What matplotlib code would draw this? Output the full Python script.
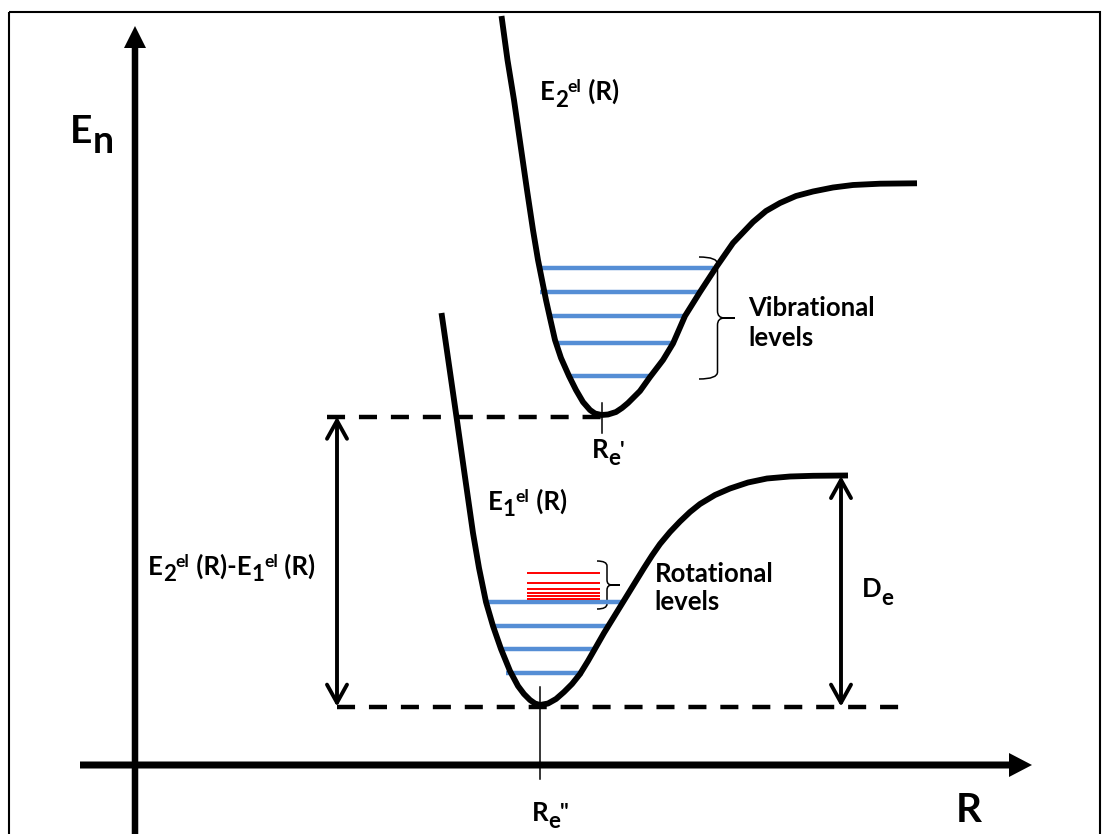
import matplotlib
matplotlib.use('Agg')
import matplotlib.pyplot as plt
from matplotlib.path import Path
from matplotlib.patches import PathPatch, Rectangle

plt.rcParams['font.family'] = ['Lato', 'DejaVu Sans']
plt.rcParams['font.weight'] = 'bold'
plt.rcParams['lines.scale_dashes'] = False

# excited state potential E2(R) (x = R, y = energy, screen units)
upper_R = [501.5, 507.5, 514, 520.5, 527, 533, 538, 542, 546, 550, 555, 561, 569, 576, 583,
           590, 595, 601.5, 608, 616, 622, 628, 640, 650, 663, 673, 685, 700, 716, 733,
           753, 766, 780, 796, 813, 833, 853, 880, 917]
upper_E = [16, 60, 100, 145, 190, 230, 260, 280, 300, 318, 340, 358, 376, 390, 402,
           410, 413.5, 415, 414.5, 412, 408, 403, 391, 377, 360, 343.5, 316, 292, 267.5, 243,
           222, 211, 203, 196, 191.5, 187.5, 185, 183.7, 183.3]

# ground state potential E1(R)
lower_R = [441.5, 449, 456.5, 464, 473, 479, 486, 493, 501, 510, 518, 524, 530, 535,
           540, 548, 556, 564, 572, 580, 588, 596, 604, 612, 620, 628, 636,
           644, 652, 660, 670, 680, 690, 700, 715, 730, 748, 767, 790, 813, 848]
lower_E = [313, 365, 417, 470, 533, 568, 602, 626, 649, 671, 686, 694, 700, 703.5,
           705, 703.5, 699, 692, 684, 674, 661, 647, 633, 620, 607, 594, 581,
           568, 555.5, 544, 532, 521.5, 512, 504, 495, 488.5, 482.5, 478.5, 476.5, 475.8, 475.5]

# vibrational levels (blue)
upper_lev_E = [268, 291.5, 315.5, 343, 376]
upper_lev_R0 = [540, 539.5, 546.5, 554, 569.5]
upper_lev_R1 = [713, 700, 684, 674, 651.5]
lower_lev_E = [602, 626, 649, 673]
lower_lev_R0 = [485.5, 495, 500.5, 506]
lower_lev_R1 = [624, 608.5, 593, 582.5]

# rotational levels (red)
rot_E = [573.3, 582.5, 588.5, 592.7, 596.2, 599.3]
rot_R0 = 527
rot_R1 = 600

# minima / asymptotes
Re1, E1min = 540, 706.7
Re2, E2min = 601.5, 416.7
E1_inf = 476

fig = plt.figure(figsize=(11.02, 8.34), dpi=100)
ax = fig.add_axes([0, 0, 1, 1])
ax.set_xlim(0, 1102)
ax.set_ylim(834, 0)
ax.axis('off')
renderer = fig.canvas.get_renderer()


def rich(x, y, parts):
    # parts: (text, size, baseline shift in px), laid out one after another
    for s, size, dy in parts:
        t = ax.text(x, y + dy, s, fontsize=size, fontweight='bold', ha='left', va='baseline')
        x += t.get_window_extent(renderer).width


def brace(x0, x1, xtip, ytop, ybot, r):
    ym = (ytop + ybot) / 2
    verts = [(x0, ytop), (x1, ytop), (x1, ytop + r),
             (x1, ym - r), (x1, ym), (x1 + r, ym),
             (xtip, ym), (x1 + r, ym),
             (x1, ym), (x1, ym + r),
             (x1, ybot - r), (x1, ybot), (x0, ybot)]
    codes = [Path.MOVETO, Path.CURVE3, Path.CURVE3,
             Path.LINETO, Path.CURVE3, Path.CURVE3,
             Path.LINETO, Path.LINETO,
             Path.CURVE3, Path.CURVE3,
             Path.LINETO, Path.CURVE3, Path.CURVE3]
    ax.add_patch(PathPatch(Path(verts, codes), fill=False, lw=1.1, ec='k'))


# frame
ax.add_patch(Rectangle((9, 12), 1091, 830, fill=False, lw=1.5, ec='k', clip_on=False))

# axes arrows
ax.arrow(135, 834, 0, -808, width=6.5, head_width=22, head_length=22,
         length_includes_head=True, fc='k', ec='none')
ax.arrow(80, 765, 952, 0, width=7, head_width=24, head_length=23,
         length_includes_head=True, fc='k', ec='none')
rich(70, 143, [('E', 28, 0), ('n', 27, 10)])
ax.text(956, 821.7, 'R', fontsize=29, fontweight='bold', ha='left', va='baseline')

# dashed reference lines
ax.plot([327, Re2], [E2min, E2min], color='k', lw=3.2, dashes=(13, 10))
ax.plot([337, 905], [E1min, E1min], color='k', lw=3.2, dashes=(13, 10))

# levels
for e, r0, r1 in zip(upper_lev_E, upper_lev_R0, upper_lev_R1):
    ax.plot([r0, r1], [e, e], color='#558ED5', lw=3.2, solid_capstyle='butt')
for e, r0, r1 in zip(lower_lev_E, lower_lev_R0, lower_lev_R1):
    ax.plot([r0, r1], [e, e], color='#558ED5', lw=3.2, solid_capstyle='butt')
for e in rot_E:
    ax.plot([rot_R0, rot_R1], [e, e], color='#FF0000', lw=1.4, solid_capstyle='butt')

# potential curves
ax.plot(upper_R, upper_E, color='k', lw=4.2, solid_joinstyle='round', solid_capstyle='butt')
ax.plot(lower_R, lower_E, color='k', lw=4.2, solid_joinstyle='round', solid_capstyle='butt')

# equilibrium ticks
ax.plot([Re2, Re2], [403, 433], color='k', lw=1.1)
ax.plot([Re1, Re1], [687, 779], color='k', lw=1.1)

# double arrows
arr = dict(arrowstyle='<->,head_length=0.65,head_width=0.36', mutation_scale=20,
           lw=2.8, color='k', shrinkA=0, shrinkB=0)
ax.annotate('', xy=(337, E2min), xytext=(337, E1min), arrowprops=arr)
ax.annotate('', xy=(841, E1_inf), xytext=(841, E1min), arrowprops=arr)

brace(699, 717.5, 735, 257, 379, 7)
brace(597, 607, 620, 561, 609, 5)

# labels
fs, fsub, fsup = 18.5, 16, 12.5
rich(540, 100, [('E', fs, 0), ('2', fsub, 7), ('el', fsup, -8), (' (R)', fs, 0)])
rich(488, 510, [('E', fs, 0), ('1', fsub, 6), ('el', fsup, -8), (' (R)', fs, 0)])
rich(148, 575, [('E', fs, 0), ('2', fsub, 6), ('el', fsup, -8), (' (R)-E', fs, 0),
                ('1', fsub, 6), ('el', fsup, -8), (' (R)', fs, 0)])
rich(591.5, 458, [('R', fs, 0), ('e', fsub, 7), ("'", fsub, 0)])
rich(531.5, 820.7, [('R', fs, 0), ('e', fsub, 7), ('"', fsub, -1)])
rich(861.5, 597, [('D', fs, 0), ('e', fsub, 8)])
ax.text(748, 316, 'Vibrational', fontsize=fs, fontweight='bold', ha='left', va='baseline')
ax.text(748, 346, 'levels', fontsize=fs, fontweight='bold', ha='left', va='baseline')
ax.text(654.5, 582.3, 'Rotational', fontsize=fs, fontweight='bold', ha='left', va='baseline')
ax.text(654.5, 610, 'levels', fontsize=fs, fontweight='bold', ha='left', va='baseline')

fig.savefig('out.png', dpi=100)
